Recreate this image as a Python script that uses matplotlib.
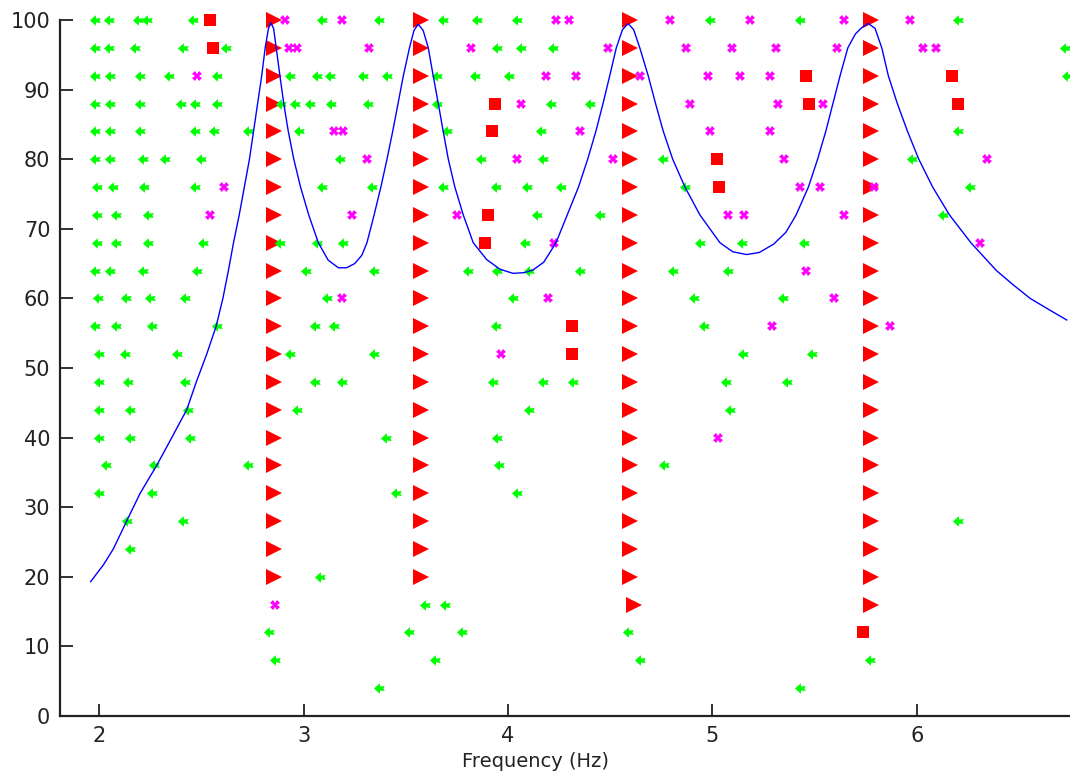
import numpy as np
from matplotlib import pyplot as plt

plt.rcParams["font.family"] = ["DejaVu Sans"]

# stable poles (red triangles): one column per mode
tri_freq = [2.853, 3.574, 4.596, 5.775]
tri_orders = [list(range(20, 101, 4)), list(range(20, 101, 4)),
              list(range(20, 101, 4)), list(range(16, 101, 4))]
tri_extra_freq = [4.616]
tri_extra_order = [16]

# red squares
sq_freq = [2.54, 2.555, 5.46, 6.171, 3.935, 5.475, 6.2, 3.924, 5.021, 5.032,
           3.903, 3.886, 4.315, 4.315, 5.739]
sq_order = [100, 96, 92, 92, 88, 88, 88, 84, 80, 76, 72, 68, 56, 52, 12]

# magenta crosses, by model order
mag = {
    100: [2.91, 3.187, 4.236, 4.30, 4.792, 5.184, 5.646, 5.967],
    96: [2.93, 2.97, 3.322, 3.821, 4.49, 4.871, 5.095, 5.312, 5.608, 6.029, 6.095],
    92: [2.477, 4.184, 4.331, 4.645, 4.98, 5.135, 5.282],
    88: [4.065, 4.89, 5.323, 5.54],
    84: [3.147, 3.195, 4.351, 4.988, 5.282],
    80: [3.312, 4.044, 4.514, 5.351, 6.342],
    76: [2.61, 5.43, 5.527, 5.791],
    72: [2.54, 3.236, 3.751, 5.078, 5.155, 5.646],
    68: [4.223, 6.31],
    64: [5.459],
    60: [3.187, 4.195, 5.597],
    56: [5.29, 5.869],
    52: [3.968],
    40: [5.029],
    16: [2.86],
}

# green markers, by model order
grn = {
    100: [1.98, 2.05, 2.19, 2.235, 2.46, 3.09, 3.371, 3.683, 3.846, 4.044, 4.988, 5.43, 6.204],
    96: [1.98, 2.05, 2.175, 2.41, 2.62, 3.947, 4.065, 4.22, 6.726],
    92: [1.98, 2.055, 2.2, 2.34, 2.575, 2.935, 3.065, 3.127, 3.293, 3.41, 3.651, 3.841, 4.004, 6.734],
    88: [1.98, 2.055, 2.2, 2.40, 2.47, 2.575, 2.89, 2.96, 3.03, 3.135, 3.314, 3.651, 4.212, 4.40],
    84: [1.98, 2.055, 2.2, 2.47, 2.56, 2.73, 2.975, 3.70, 4.163, 6.204],
    80: [1.98, 2.055, 2.215, 2.32, 2.50, 3.176, 3.87, 4.171, 4.76, 5.975],
    76: [1.99, 2.065, 2.22, 2.47, 3.09, 3.334, 3.683, 3.943, 4.095, 4.26, 4.866, 6.261],
    72: [1.99, 2.08, 2.24, 4.143, 4.449, 6.13],
    68: [1.99, 2.08, 2.24, 2.51, 2.885, 3.065, 3.195, 4.085, 4.939, 5.144, 5.446],
    64: [1.98, 2.055, 2.215, 2.477, 3.01, 3.342, 3.802, 3.947, 4.103, 4.351, 4.809, 5.078],
    60: [1.995, 2.13, 2.25, 2.42, 3.114, 4.025, 4.91, 5.348],
    56: [1.98, 2.08, 2.26, 2.575, 3.057, 3.147, 3.939, 4.959],
    52: [2.0, 2.125, 2.38, 2.935, 3.342, 5.152, 5.49],
    48: [2.0, 2.14, 2.42, 3.057, 3.187, 3.927, 4.171, 4.318, 5.065, 5.367],
    44: [2.0, 2.15, 2.435, 2.97, 4.103, 5.086],
    40: [2.0, 2.15, 2.445, 3.402, 3.948],
    36: [2.035, 2.27, 2.73, 3.956, 4.763],
    32: [2.0, 2.26, 3.451, 4.044],
    28: [2.135, 2.41, 6.204],
    24: [2.15],
    20: [3.078],
    16: [3.594, 3.691],
    12: [2.83, 3.517, 3.773, 4.585],
    8: [2.86, 3.643, 4.645, 5.771],
    4: [3.369, 5.43],
}

# averaged spectrum (blue line)
curve_f = [1.958, 2.02, 2.069, 2.134, 2.20, 2.281, 2.355, 2.428, 2.475, 2.526,
           2.572, 2.605, 2.632, 2.657, 2.685, 2.71, 2.735, 2.755, 2.775, 2.795,
           2.812, 2.828, 2.84, 2.853, 2.866, 2.884, 2.903, 2.925, 2.952, 2.985,
           3.025, 3.072, 3.12, 3.17, 3.21, 3.25, 3.285, 3.31, 3.345, 3.378,
           3.408, 3.436, 3.462, 3.488, 3.518, 3.54, 3.561, 3.585, 3.61, 3.634,
           3.659, 3.683, 3.708, 3.74, 3.781, 3.83, 3.895, 3.96, 4.025, 4.08,
           4.123, 4.175, 4.235, 4.29, 4.345, 4.39, 4.43, 4.465, 4.498, 4.53,
           4.56, 4.588, 4.615, 4.645, 4.686, 4.722, 4.76, 4.806, 4.866, 4.939,
           5.037, 5.10, 5.168, 5.23, 5.30, 5.36, 5.41, 5.47, 5.515, 5.555,
           5.59, 5.625, 5.663, 5.70, 5.731, 5.763, 5.796, 5.829, 5.861, 5.905,
           5.955, 6.01, 6.078, 6.16, 6.265, 6.39, 6.47, 6.555, 6.652, 6.734]
curve_o = [19.3, 21.7, 24.0, 28.0, 32.0, 36.0, 40.0, 44.0, 48.0, 52.0,
           56.0, 60.0, 64.0, 68.0, 72.0, 76.0, 80.0, 84.0, 88.0, 92.0,
           96.0, 98.8, 99.6, 98.8, 96.0, 92.0, 88.0, 84.0, 80.0, 76.0,
           72.0, 68.0, 65.5, 64.4, 64.4, 65.0, 66.2, 68.0, 72.0, 76.0,
           80.0, 84.0, 88.0, 92.0, 96.0, 98.5, 99.4, 98.5, 96.0, 92.0,
           88.0, 84.0, 80.0, 76.0, 72.0, 68.0, 65.6, 64.2, 63.6, 63.7,
           64.1, 65.2, 68.0, 72.0, 76.0, 80.0, 84.0, 88.0, 92.0, 96.0,
           98.6, 99.5, 98.6, 96.0, 92.0, 88.0, 84.0, 80.0, 76.0, 72.0,
           68.0, 66.7, 66.3, 66.6, 67.8, 69.5, 72.0, 76.0, 80.0, 84.0,
           88.0, 92.0, 96.0, 98.0, 98.9, 99.5, 98.8, 96.0, 92.0, 88.0,
           84.0, 80.0, 76.0, 72.0, 68.0, 64.0, 62.0, 60.0, 58.3, 56.9]

# left-pointing arrow head used for the green marks
green_shape = [(-1, 0), (0.05, 0.95), (0.1, 0.35), (0.95, 0.45), (0.7, 0),
               (0.95, -0.45), (0.1, -0.35), (0.05, -0.95)]

fig = plt.figure(figsize=(10.7, 7.78), dpi=100)
ax = fig.add_axes([60 / 1070, 62 / 778, 1010 / 1070, 696 / 778])

tx, ty = [], []
for f, orders in zip(tri_freq, tri_orders):
    tx += [f] * len(orders)
    ty += orders
tx += tri_extra_freq
ty += tri_extra_order
ax.plot(tx, ty, ">", color="red", markersize=11, markeredgewidth=0, clip_on=False, zorder=2)

gx = [f for o, fs in grn.items() for f in fs]
gy = [o for o, fs in grn.items() for f in fs]
ax.plot(gx, gy, linestyle="none", marker=green_shape, color="#00ff00", markersize=8,
        markeredgewidth=0, clip_on=False, zorder=3)

mx = [f for o, fs in mag.items() for f in fs]
my = [o for o, fs in mag.items() for f in fs]
ax.plot(mx, my, "X", color="magenta", markersize=7, markeredgewidth=0, clip_on=False, zorder=3)

ax.plot(sq_freq, sq_order, "s", color="red", markersize=8, markeredgewidth=0, clip_on=False, zorder=3)

ax.plot(curve_f, curve_o, color="blue", linewidth=1.0, zorder=4)

ax.set_xlim(1.808, 6.75)
ax.set_ylim(0, 100)
ax.set_xticks([2, 3, 4, 5, 6])
ax.set_yticks(range(0, 101, 10))
ax.tick_params(direction="in", length=9, width=1.3, labelsize=15, colors="#222222", pad=7)
for s in ["top", "right"]:
    ax.spines[s].set_visible(False)
for s in ["left", "bottom"]:
    ax.spines[s].set_linewidth(1.6)
    ax.spines[s].set_color("#222222")
ax.set_xlabel("Frequency (Hz)", fontsize=14, color="#222222")
ax.xaxis.set_label_coords(0.471, -0.052)

fig.savefig("out.png", dpi=100)
